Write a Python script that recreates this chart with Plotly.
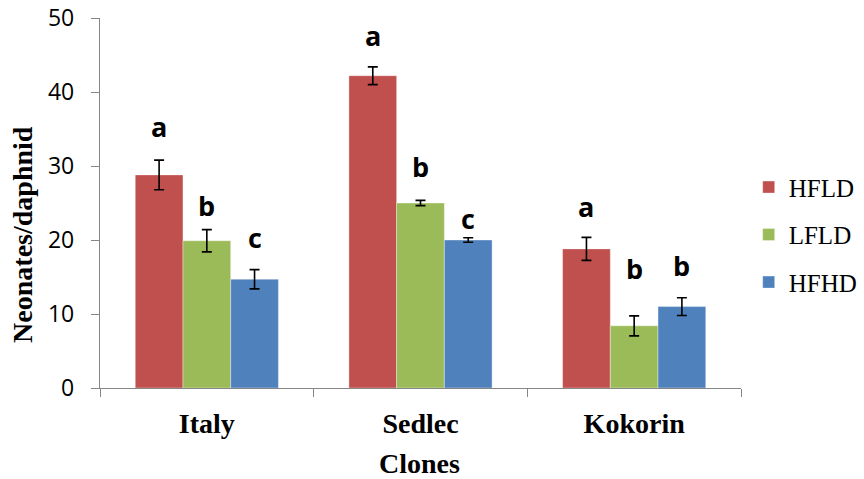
import plotly.graph_objects as go

clones = ["Italy", "Sedlec", "Kokorin"]
series = ["HFLD", "LFLD", "HFHD"]
colors = ["#C0504D", "#9BBB59", "#4F81BD"]
values = {
    "HFLD": [28.8, 42.2, 18.8],
    "LFLD": [19.9, 25.0, 8.4],
    "HFHD": [14.7, 20.0, 11.0],
}
errors = {
    "HFLD": [2.0, 1.2, 1.55],
    "LFLD": [1.5, 0.35, 1.35],
    "HFHD": [1.3, 0.3, 1.2],
}
letters = {
    "HFLD": ["a", "a", "a"],
    "LFLD": ["b", "b", "b"],
    "HFHD": ["c", "c", "b"],
}
letter_y = {
    "HFLD": [35.3, 47.7, 24.5],
    "LFLD": [24.7, 30.0, 16.2],
    "HFHD": [20.4, 22.9, 16.6],
}
y_ticks = [0, 10, 20, 30, 40, 50]

W, H = 864, 479
ML, MR, MT, MB = 100, 123, 18, 91
BARGAP = 0.33
plot_w = W - ML - MR
cat_w = plot_w / len(clones)
bar_w = cat_w * (1 - BARGAP) / len(series)

fig = go.Figure()
for i, s in enumerate(series):
    fig.add_trace(go.Bar(
        x=clones, y=values[s], name=s, legendgroup=s,
        marker=dict(color=colors[i], line=dict(color="rgba(255,255,255,0.6)", width=0.6)),
        error_y=dict(type="data", array=errors[s], color="black", thickness=1.6, width=5),
    ))

annotations = []
for i, s in enumerate(series):
    shift = (i - (len(series) - 1) / 2) * bar_w
    for j, c in enumerate(clones):
        annotations.append(dict(
            x=c, y=letter_y[s][j], xref="x", yref="y", text=letters[s][j],
            showarrow=False, xshift=shift, xanchor="center", yanchor="middle",
            font=dict(family="Open Sans", size=27, color="black", weight="bold"),
        ))

annotations.append(dict(
    x=-0.12, y=0.414, xref="paper", yref="paper", text="<b>Neonates/daphnid</b>",
    textangle=-90, showarrow=False, xanchor="center", yanchor="middle",
    font=dict(family="Liberation Serif", size=28, color="black"),
))
annotations.append(dict(
    x=0.498, y=-0.205, xref="paper", yref="paper", text="<b>Clones</b>",
    showarrow=False, xanchor="center", yanchor="middle",
    font=dict(family="Liberation Serif", size=28, color="black"),
))

fig.update_layout(
    width=W, height=H,
    margin=dict(l=ML, r=MR, t=MT, b=MB, autoexpand=False),
    paper_bgcolor="white", plot_bgcolor="white",
    barmode="group", bargap=BARGAP, bargroupgap=0,
    showlegend=True,
    legend=dict(
        x=1.012, y=0.414, xanchor="left", yanchor="middle",
        font=dict(family="Liberation Serif", size=25, color="black"),
        tracegroupgap=12, bgcolor="rgba(0,0,0,0)",
    ),
    annotations=annotations,
    xaxis=dict(
        showline=True, linecolor="#868686", linewidth=1.3,
        ticks="outside", tickson="boundaries", ticklen=8, tickcolor="#868686", tickwidth=1.3,
        tickfont=dict(family="Liberation Serif", size=28, color="black", weight="bold"),
        ticklabelstandoff=10, showgrid=False, zeroline=False,
    ),
    yaxis=dict(
        range=[0, 50], tickvals=y_ticks, ticktext=[str(v) for v in y_ticks],
        showline=True, linecolor="#868686", linewidth=1.3,
        ticks="outside", ticklen=8, tickcolor="#868686", tickwidth=1.3,
        tickfont=dict(family="Open Sans", size=23, color="black"),
        ticklabelstandoff=12, showgrid=False, zeroline=False,
    ),
)

fig.write_html(
    "out.html",
    config={"displayModeBar": False},
    post_script="document.body.style.margin='0';document.body.style.overflow='hidden';",
)
